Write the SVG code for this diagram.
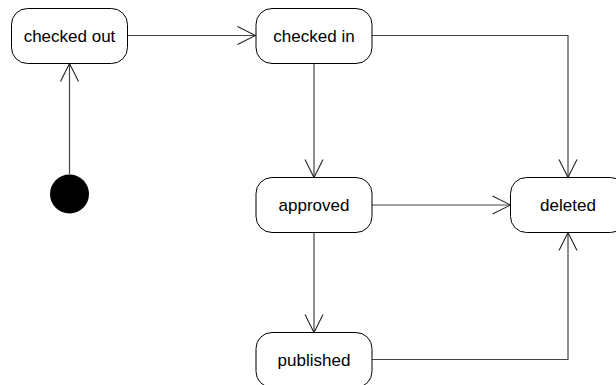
<svg xmlns="http://www.w3.org/2000/svg" width="616" height="385" viewBox="0 0 616 385">
  <style>
    .state rect { fill: #ffffff; stroke: #000000; stroke-width: 1; }
    .state text { font-family: "Liberation Sans", Arial, sans-serif; font-size: 17px; fill: #000000; text-anchor: middle; }
    .edge { fill: none; stroke: #444444; stroke-width: 1.2; marker-end: url(#open); }
  </style>
  <defs>
    <marker id="open" viewBox="0 0 20 20" refX="19" refY="10" markerWidth="20" markerHeight="20" markerUnits="userSpaceOnUse" orient="auto">
      <path d="M1,1 L19,10 L1,19" fill="none" stroke="#222222" stroke-width="1.1"/>
    </marker>
  </defs>
  <rect width="616" height="385" fill="#ffffff"/>

  <g id="connectors">
    <path class="edge" d="M69.5,174 L69.5,63.5"/>
    <path class="edge" d="M127,35.5 L255.5,35.5"/>
    <path class="edge" d="M372,35.5 L568,35.5 L568,177.5"/>
    <path class="edge" d="M314,63 L314,177.5"/>
    <path class="edge" d="M372,205 L510.5,205"/>
    <path class="edge" d="M314,232 L314,332.5"/>
    <path class="edge" d="M372,359.5 L568,359.5 L568,232.5"/>
  </g>

  <g id="initial">
    <circle cx="69.5" cy="194" r="19.5" fill="#000000"/>
  </g>

  <g id="checked-out" class="state">
    <rect x="11.5" y="8.5" width="116" height="55" rx="16" ry="16"/>
    <text x="69.5" y="42">checked out</text>
  </g>

  <g id="checked-in" class="state">
    <rect x="256" y="8.5" width="116" height="55" rx="16" ry="16"/>
    <text x="314" y="42">checked in</text>
  </g>

  <g id="approved" class="state">
    <rect x="256" y="177.5" width="116" height="55" rx="16" ry="16"/>
    <text x="314" y="211">approved</text>
  </g>

  <g id="deleted" class="state">
    <rect x="510.5" y="177.5" width="116" height="55" rx="16" ry="16"/>
    <text x="568" y="211">deleted</text>
  </g>

  <g id="published" class="state">
    <rect x="256" y="332.5" width="116" height="55" rx="16" ry="16"/>
    <text x="314" y="366">published</text>
  </g>
</svg>
